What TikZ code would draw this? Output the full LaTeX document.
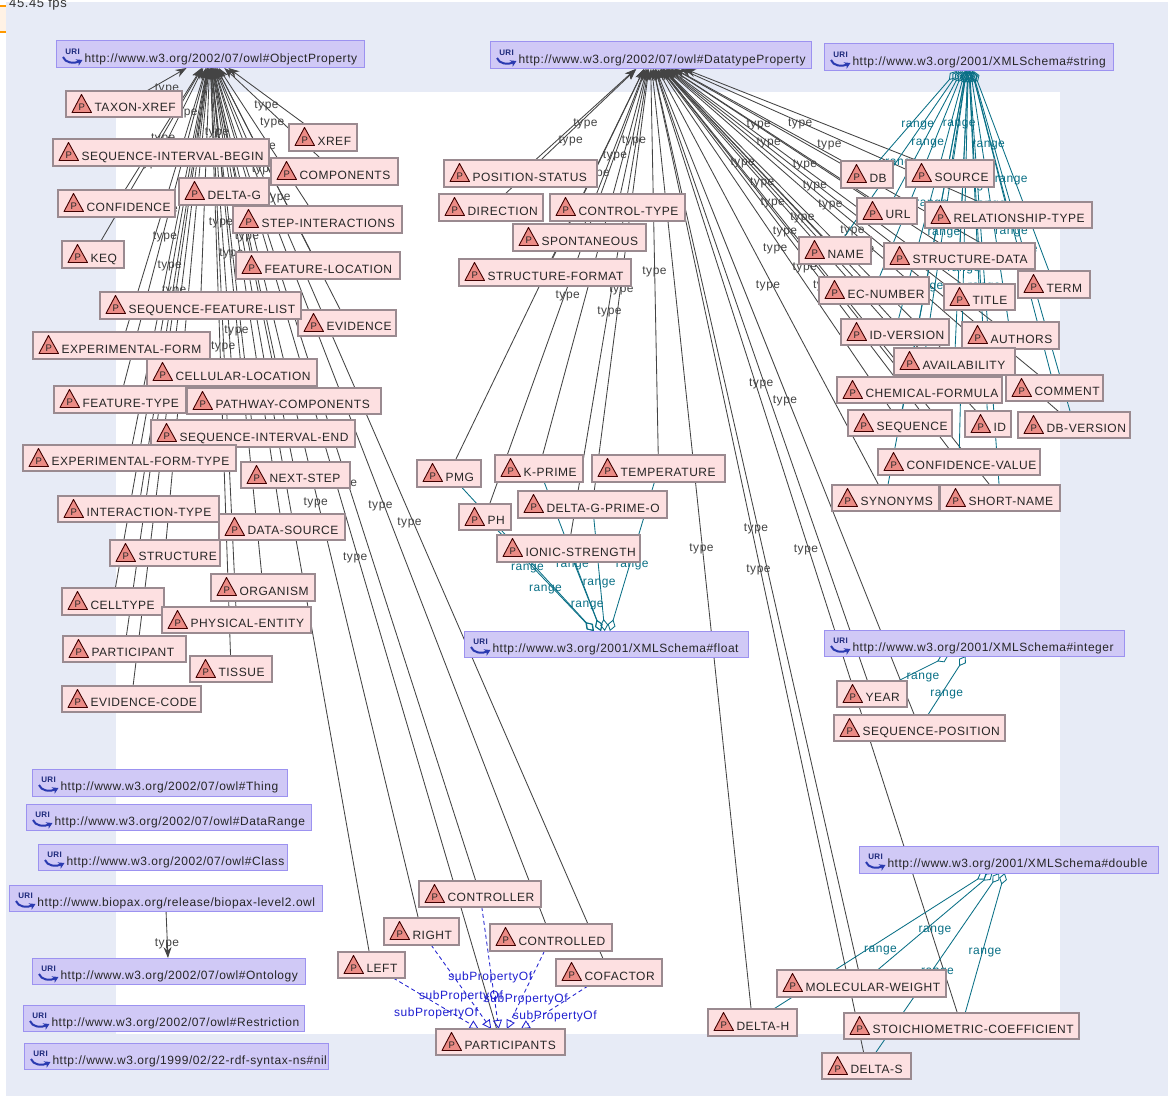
\documentclass[tikz,border=0pt]{standalone}
\usepackage{fontspec}
\setmainfont[LetterSpace=4.5]{Liberation Sans}
\usetikzlibrary{arrows.meta,calc}
\pgfdeclarelayer{bglayer}
\pgfdeclarelayer{edgelayer}
\pgfsetlayers{bglayer,edgelayer,main}
\definecolor{pagebg}{HTML}{E7EBF6}
\definecolor{pfill}{HTML}{FDE0E1}
\definecolor{pline}{HTML}{9A8A90}
\definecolor{ufill}{HTML}{D0C9F6}
\definecolor{uline}{HTML}{9C92F0}
\definecolor{tricol}{HTML}{EC8C86}
\definecolor{typecol}{HTML}{444444}
\definecolor{rangecol}{HTML}{0A7086}
\definecolor{subcol}{HTML}{2020D0}
\definecolor{uricol}{HTML}{2A3AB0}
\tikzset{
  pbox/.style={draw=pline,fill=pfill,line width=1.1pt,inner sep=0pt,outer sep=0pt,text=black!85,font=\fontsize{12}{14}\selectfont,text height=15.5pt,text depth=0pt},
  ubox/.style={draw=uline,fill=ufill,line width=1pt,inner sep=0pt,outer sep=0pt,text=black!85,font=\fontsize{12}{14}\selectfont,text height=16pt,text depth=0pt},
  ptri/.style={draw=black!75!red,fill=tricol,line width=.9pt,line join=round},
  ptag/.style={inner sep=0pt,font=\fontsize{9.5}{10}\selectfont,text=black!85},
  utag/.style={inner sep=0pt,font=\fontsize{8}{8}\selectfont\bfseries,text=uricol!70!black},
  uarrow/.style={draw=uricol,line width=2pt,-{Stealth[length=6pt,width=7pt]}},
  typeline/.style={draw=typecol,line width=.85pt,-{Stealth[length=11pt,width=8pt]}},
  rangeline/.style={draw=rangecol,line width=.85pt,-{Diamond[open,length=12pt,width=8pt]}},
  subline/.style={draw=subcol,line width=.85pt,dashed,dash pattern=on 4pt off 3pt,-{Triangle[open,length=9pt,width=9pt]}},
  typelab/.style={inner sep=0pt,yshift=-9.5pt,font=\fontsize{12}{14}\selectfont,text=typecol},
  rangelab/.style={inner sep=0pt,yshift=-9.5pt,font=\fontsize{12}{14}\selectfont,text=rangecol},
  sublab/.style={inner sep=0pt,yshift=-9.5pt,font=\fontsize{12}{14}\selectfont,text=subcol},
}
\newcommand{\pn}[6]{%
  \node[pbox,minimum width={#3-#2},minimum height={#5-#4}] (#1) at ({(#2+#3)/2},{(#4+#5)/2}) {\makebox[\dimexpr#3pt-#2pt\relax][l]{\hspace{28.5pt}#6}};
  \draw[ptri] ([shift={(6,21.5)}]#1.north west) -- ([shift={(15.5,3.5)}]#1.north west) -- ([shift={(25.5,21.5)}]#1.north west) -- cycle;
  \node[ptag] (#1-p) at ([shift={(15.7,15.8)}]#1.north west) {P};
}
\newcommand{\un}[6]{%
  \node[ubox,minimum width={#3-#2},minimum height={#5-#4}] (#1) at ({(#2+#3)/2},{(#4+#5)/2}) {\makebox[\dimexpr#3pt-#2pt\relax][l]{\hspace{28.5pt}#6}};
  \node[utag] (#1-u) at ([shift={(16.5,10.5)}]#1.north west) {URI};
  \draw[uarrow] ([shift={(7,16)}]#1.north west) .. controls ([shift={(9,22)}]#1.north west) and ([shift={(18,23)}]#1.north west) .. ([shift={(26.5,19)}]#1.north west);
}
\newcommand{\tedge}[2]{%
  \path (#1.center) -- node[typelab] (tl-#1) {type} (#2.center);
  \draw[typeline] (#1) -- (#2);
}
\newcommand{\redge}[2]{%
  \path (#1.center) -- node[rangelab] (rl-#1) {range} (#2.center);
  \draw[rangeline] (#1) -- (#2);
}
\newcommand{\sedge}[2]{%
  \path (#1.center) -- node[sublab] (sl-#1) {subPropertyOf} (#2.center);
  \draw[subline] (#1) -- (#2);
}
\begin{document}
\begin{tikzpicture}[x=1pt,y=-1pt]
\useasboundingbox (0,0) rectangle (1168,1097);
\begin{pgfonlayer}{bglayer}
  \fill[white] (0,0) rectangle (1168,1097);
  \fill[pagebg] (6,2) rectangle (1168,1096);
  \fill[white] (116,92) rectangle (1060,1034);
  \fill[orange!10] (0,6) rectangle (6,33);
  \fill[orange!80!yellow] (0,5.5) rectangle (6,7);
  \fill[orange!80!yellow] (0,31.5) rectangle (6,33);
\end{pgfonlayer}
\node[anchor=west,inner sep=0pt,font=\fontsize{13}{14}\selectfont,text=black!80] (fps) at (9,4.5) {45.45 fps};

% URI nodes
\un{objprop}{56}{364}{41}{68}{http://www.w3.org/2002/07/owl\#ObjectProperty}
\un{dataprop}{490}{811}{42}{69}{http://www.w3.org/2002/07/owl\#DatatypeProperty}
\un{xstring}{824}{1113}{44}{71}{http://www.w3.org/2001/XMLSchema\#string}
\un{xfloat}{464}{748}{631}{657}{http://www.w3.org/2001/XMLSchema\#float}
\un{xint}{824}{1124}{630}{656}{http://www.w3.org/2001/XMLSchema\#integer}
\un{xdouble}{859}{1158}{846}{873}{http://www.w3.org/2001/XMLSchema\#double}
\un{thing}{32}{287}{769}{796}{http://www.w3.org/2002/07/owl\#Thing}
\un{datarange}{26}{311}{804}{830}{http://www.w3.org/2002/07/owl\#DataRange}
\un{owlclass}{38}{287}{844}{870}{http://www.w3.org/2002/07/owl\#Class}
\un{biopax}{9}{322}{885}{911}{http://www.biopax.org/release/biopax-level2.owl}
\un{ontology}{32}{305}{958}{984}{http://www.w3.org/2002/07/owl\#Ontology}
\un{restriction}{23}{304}{1005}{1031}{http://www.w3.org/2002/07/owl\#Restriction}
\un{nil}{24}{328}{1043}{1069}{http://www.w3.org/1999/02/22-rdf-syntax-ns\#nil}

% object properties
\pn{taxon}{66}{182}{91}{117}{TAXON-XREF}
\pn{xref}{289}{357}{124}{151}{XREF}
\pn{sib}{53}{269}{139}{166}{SEQUENCE-INTERVAL-BEGIN}
\pn{components}{271}{398}{158}{185}{COMPONENTS}
\pn{confidence}{58}{175}{190}{217}{CONFIDENCE}
\pn{deltag}{179}{269}{178}{205}{DELTA-G}
\pn{stepint}{233}{402}{206}{233}{STEP-INTERACTIONS}
\pn{keq}{62}{124}{241}{268}{KEQ}
\pn{featloc}{236}{400}{252}{279}{FEATURE-LOCATION}
\pn{evidence}{298}{396}{310}{336}{EVIDENCE}
\pn{seqfeat}{100}{301}{292}{319}{SEQUENCE-FEATURE-LIST}
\pn{expform}{33}{210}{332}{359}{EXPERIMENTAL-FORM}
\pn{cellloc}{147}{317}{359}{386}{CELLULAR-LOCATION}
\pn{feattype}{54}{186}{386}{413}{FEATURE-TYPE}
\pn{pathcomp}{187}{381}{388}{414}{PATHWAY-COMPONENTS}
\pn{sie}{151}{355}{420}{447}{SEQUENCE-INTERVAL-END}
\pn{expformtype}{23}{236}{445}{471}{EXPERIMENTAL-FORM-TYPE}
\pn{nextstep}{241}{350}{462}{488}{NEXT-STEP}
\pn{inttype}{58}{219}{496}{522}{INTERACTION-TYPE}
\pn{datasource}{219}{345}{514}{540}{DATA-SOURCE}
\pn{structure}{110}{220}{540}{566}{STRUCTURE}
\pn{organism}{211}{315}{574}{601}{ORGANISM}
\pn{celltype}{62}{164}{588}{615}{CELLTYPE}
\pn{physent}{162}{311}{607}{633}{PHYSICAL-ENTITY}
\pn{participant}{63}{186}{636}{662}{PARTICIPANT}
\pn{tissue}{190}{272}{656}{682}{TISSUE}
\pn{evcode}{62}{201}{686}{712}{EVIDENCE-CODE}
\pn{controller}{419}{541}{881}{907}{CONTROLLER}
\pn{right}{384}{459}{918}{945}{RIGHT}
\pn{controlled}{490}{612}{924}{951}{CONTROLLED}
\pn{left}{338}{405}{952}{978}{LEFT}
\pn{cofactor}{556}{662}{959}{986}{COFACTOR}
\pn{participants}{436}{565}{1029}{1055}{PARTICIPANTS}

% datatype properties
\pn{posstatus}{444}{597}{160}{187}{POSITION-STATUS}
\pn{direction}{439}{543}{194}{221}{DIRECTION}
\pn{controltype}{550}{685}{194}{221}{CONTROL-TYPE}
\pn{spont}{513}{646}{224}{251}{SPONTANEOUS}
\pn{structformat}{459}{631}{259}{286}{STRUCTURE-FORMAT}
\pn{pmg}{417}{481}{460}{487}{PMG}
\pn{kprime}{495}{583}{455}{482}{K-PRIME}
\pn{temperature}{592}{725}{455}{482}{TEMPERATURE}
\pn{deltagp}{518}{667}{491}{518}{DELTA-G-PRIME-O}
\pn{ph}{459}{511}{504}{530}{PH}
\pn{ionic}{497}{640}{535}{562}{IONIC-STRENGTH}
\pn{year}{837}{907}{681}{707}{YEAR}
\pn{seqpos}{834}{1005}{715}{741}{SEQUENCE-POSITION}
\pn{molweight}{777}{946}{970}{997}{MOLECULAR-WEIGHT}
\pn{deltah}{708}{797}{1009}{1036}{DELTA-H}
\pn{stoich}{844}{1079}{1013}{1039}{STOICHIOMETRIC-COEFFICIENT}
\pn{deltas}{822}{911}{1053}{1079}{DELTA-S}
\pn{db}{841}{893}{161}{188}{DB}
\pn{source}{906}{994}{160}{187}{SOURCE}
\pn{url}{857}{917}{198}{224}{URL}
\pn{reltype}{925}{1092}{202}{228}{RELATIONSHIP-TYPE}
\pn{name}{799}{871}{237}{264}{NAME}
\pn{structdata}{884}{1035}{243}{269}{STRUCTURE-DATA}
\pn{ecnumber}{819}{929}{277}{304}{EC-NUMBER}
\pn{term}{1018}{1090}{271}{298}{TERM}
\pn{title}{944}{1015}{284}{310}{TITLE}
\pn{idversion}{841}{949}{319}{345}{ID-VERSION}
\pn{authors}{962}{1059}{322}{349}{AUTHORS}
\pn{availability}{894}{1015}{348}{375}{AVAILABILITY}
\pn{chemform}{837}{1002}{377}{403}{CHEMICAL-FORMULA}
\pn{comment}{1006}{1103}{375}{401}{COMMENT}
\pn{sequence}{848}{952}{410}{436}{SEQUENCE}
\pn{idp}{965}{1011}{411}{437}{ID}
\pn{dbversion}{1018}{1130}{412}{438}{DB-VERSION}
\pn{confvalue}{878}{1040}{449}{475}{CONFIDENCE-VALUE}
\pn{synonyms}{832}{939}{485}{511}{SYNONYMS}
\pn{shortname}{940}{1060}{485}{511}{SHORT-NAME}

\begin{pgfonlayer}{edgelayer}
\foreach \n in {taxon,xref,sib,components,confidence,deltag,stepint,keq,featloc,evidence,seqfeat,expform,cellloc,feattype,pathcomp,sie,expformtype,nextstep,inttype,datasource,structure,organism,celltype,physent,participant,tissue,evcode,controller,right,controlled,left,cofactor,participants}{\tedge{\n}{objprop}}
\foreach \n in {posstatus,direction,controltype,spont,structformat,pmg,kprime,temperature,deltagp,ph,ionic,year,seqpos,molweight,deltah,stoich,deltas,db,source,url,reltype,name,structdata,ecnumber,term,title,idversion,authors,availability,chemform,comment,sequence,idp,dbversion,confvalue,synonyms,shortname}{\tedge{\n}{dataprop}}
\foreach \n in {db,source,url,reltype,name,structdata,ecnumber,term,title,idversion,authors,availability,chemform,comment,sequence,idp,dbversion,confvalue,synonyms,shortname}{\redge{\n}{xstring}}
\foreach \n in {pmg,kprime,temperature,deltagp,ph,ionic}{\redge{\n}{xfloat}}
\foreach \n in {year,seqpos}{\redge{\n}{xint}}
\foreach \n in {molweight,deltah,stoich,deltas}{\redge{\n}{xdouble}}
\foreach \n in {controller,right,controlled,left,cofactor}{\sedge{\n}{participants}}
\tedge{biopax}{ontology}
\end{pgfonlayer}
\end{tikzpicture}
\end{document}
